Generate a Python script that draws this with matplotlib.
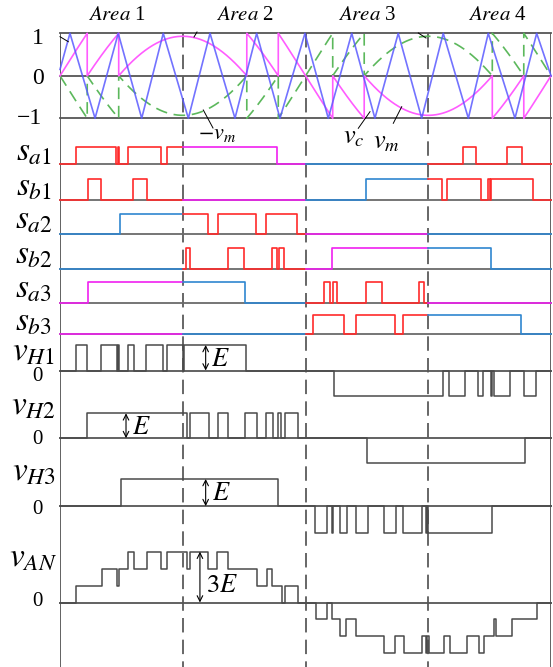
import numpy as np
import matplotlib.pyplot as plt
from matplotlib.lines import Line2D

plt.rcParams['font.family'] = ['Liberation Serif', 'DejaVu Serif']
plt.rcParams['mathtext.fontset'] = 'stix'

# ---- data: phase angle in degrees over one fundamental period ----
area_names = ['1', '2', '3', '4']
area_bounds = [90, 180, 270]

# triangular carrier (vertices)
carrier_t = [0, 7.3, 25.7, 42.7, 59.9, 75.7, 94.1, 110.0, 128.3, 144.2, 161.3, 179.6,
             196.7, 213.9, 230.9, 248.0, 265.2, 281.0, 299.4, 314.0, 333.6, 349.5, 360]
carrier_v = [0.15, 1, -1, 1, -1, 1, -1, 1, -1, 1, -1, 1,
             -1, 1, -1, 1, -1, 1, -1, 1, -1, 1, 0.0]
mod_amp = 2.93  # peak of the modulating wave, counted in carrier bands

# gate signals: angles where the switch toggles (all start off)
sa1_t = [11.7, 41.1, 42.3, 43.5, 49.6, 74.1, 78.5, 159.3, 295.5, 305.0, 327.7, 338.7]
sb1_t = [20.7, 30.1, 53.7, 63.6, 224.4, 279.9, 284.0, 308.7, 314.0, 315.1, 316.2, 347.0]
sa2_t = [44.0, 108.3, 115.6, 143.7, 151.0, 173.5]
sb2_t = [92.4, 95.3, 123.0, 134.9, 155.2, 158.9, 160.8, 164.5, 199.4, 316.0]
sa3_t = [20.7, 135.6, 193.8, 198.0, 199.9, 203.3, 224.4, 236.3, 263.4, 266.9]
sb3_t = [185.7, 208.2, 217.0, 245.6, 251.7, 337.8]

# colour of each gate trace in areas 1..4
sa1_c = ['r', 'm', 'b', 'r']
sb1_c = ['r', 'm', 'b', 'r']
sa2_c = ['b', 'r', 'm', 'b']
sb2_c = ['b', 'r', 'm', 'b']
sa3_c = ['m', 'b', 'r', 'm']
sb3_c = ['m', 'b', 'r', 'b']

# H-bridge output voltages (angle of change, new level in units of E)
vh1_t = [11.7, 20.0, 30.1, 41.6, 42.3, 43.5, 49.6, 54.3, 63.1, 75.3, 78.7, 89.9, 90.9, 136.2,
         201.1, 281.0, 285.4, 296.9, 306.3, 310.4, 315.8, 317.0, 318.4, 329.9, 340.2, 349.0]
vh1_v = [1, 0, 1, 0, 1, 0, 1, 0, 1, 0, 1, 0, 1, 0,
         -1, 0, -1, 0, -1, 0, -1, 0, -1, 0, -1, 0]
vh2_t = [20.0, 92.9, 95.3, 109.5, 115.6, 123.4, 135.6, 144.2, 151.0, 156.0, 160.1, 162.1,
         165.0, 174.7, 225.3, 340.9]
vh2_v = [1, 0, 1, 0, 1, 0, 1, 0, 1, 0, 1, 0, 1, 0, -1, 0]
vh3_t = [44.5, 160.1, 187.0, 195.5, 199.2, 200.4, 205.3, 210.2, 217.0, 225.6, 237.8, 246.1,
         251.7, 265.2, 268.1, 269.1, 270.0, 316.5]
vh3_v = [1, 0, -1, 0, -1, 0, -1, 0, -1, 0, -1, 0, -1, 0, -1, 0, -1, 0]
van_t = [11.5, 30.6, 42.0, 43.5, 50.1, 54.3, 64.0, 73.8, 78.7, 92.9, 95.3, 108.7, 114.9, 123.0,
         144.2, 151.6, 155.7, 162.6, 165.0, 174.7, 187.5, 195.5, 199.2, 205.3, 209.7, 217.0,
         237.6, 245.6, 252.2, 265.2, 268.4, 269.3, 270.2, 281.8, 285.9, 298.2, 307.2, 311.1,
         318.4, 319.7, 331.2, 349.5]
van_v = [1, 2, 1, 2, 3, 2, 3, 2, 3, 2, 3, 2, 3, 2,
         1, 2, 1, 0, 1, 0, -1, 0, -1, -2, -1, -2,
         -3, -2, -3, -2, -3, -2, -3, -2, -3, -2, -3, -2,
         -1, -2, -1, 0]

# ---- styling ----
W, H = 553, 667
X0, X1 = 60, 551
COL = {'r': '#ff2a2a', 'm': '#f020f0', 'b': '#2f86d0'}
GRAY = '#555555'
WAVE = '#4a4a4a'

fig = plt.figure(figsize=(W / 100, H / 100), dpi=100)


def fx(x):
    return x / W


def fy(y):
    return 1 - y / H


def row_axes(y_top, y_bot, lo, hi):
    ax = fig.add_axes([fx(X0), fy(y_bot), (X1 - X0) / W, (y_bot - y_top) / H])
    ax.set_xlim(0, 360)
    ax.set_ylim(lo, hi)
    ax.axis('off')
    return ax


def level_path(times, levels):
    xs, ys, cur = [0], [0], 0
    for t, v in zip(times, levels):
        xs += [t, t]
        ys += [cur, v]
        cur = v
    xs.append(360)
    ys.append(cur)
    return xs, ys


def toggle_path(times, lo, hi):
    state = sum(1 for t in times if t <= lo) % 2
    xs, ys = [lo], [state]
    for t in times:
        if lo < t < hi:
            xs += [t, t]
            ys += [state, 1 - state]
            state = 1 - state
    xs.append(hi)
    ys.append(state)
    return xs, ys


# background: frame and area separators (x in degrees, y in pixel rows)
bg = fig.add_axes([fx(X0), 0, (X1 - X0) / W, 1])
bg.set_xlim(0, 360)
bg.set_ylim(H, 0)
bg.axis('off')
bg.vlines([0, 360], 33, H, color=GRAY, lw=1.3)
bg.vlines(area_bounds, 33, H, color='#5a5a5a', lw=1.3, linestyles=(0, (8, 4)))

# top panel: carrier and level-shifted references
ax = row_axes(33.3, 118.3, -1, 1)
for v in (1, 0, -1):
    ax.axhline(v, color=GRAY, lw=1.3, clip_on=False)
th = np.linspace(0, 360, 40001)
vm = mod_amp * np.sin(np.radians(th))
ax.plot(th, np.fmod(-vm, 1), color='#5cb85c', lw=1.2, ls=(0, (7, 4)), clip_on=False)
ax.plot(th, np.fmod(vm, 1), color='#ff5cff', lw=1.2, clip_on=False)
ax.plot(carrier_t, carrier_v, color='#5a5aff', lw=1.2, alpha=0.85, clip_on=False)

# gate signals
sw_rows = [(147.3, 164.3), (179, 200), (214, 234), (247.7, 269), (281.7, 303.3), (315, 334.3)]
sw_data = [(sa1_t, sa1_c), (sb1_t, sb1_c), (sa2_t, sa2_c),
           (sb2_t, sb2_c), (sa3_t, sa3_c), (sb3_t, sb3_c)]
for (yt, yb), (times, cols) in zip(sw_rows, sw_data):
    ax = row_axes(yt, yb, 0, 1)
    ax.axhline(0, color='#6a6a6a', lw=1.3, clip_on=False)
    for k in range(4):
        xs, ys = toggle_path(times, 90 * k, 90 * (k + 1))
        ax.plot(xs, ys, color=COL[cols[k]], lw=1.2, clip_on=False)

# H-bridge voltages and phase voltage
v_rows = [(345, 396, 1), (413.3, 463, 1), (479, 533.3, 1), (551.7, 653.3, 3)]
v_data = [(vh1_t, vh1_v), (vh2_t, vh2_v), (vh3_t, vh3_v), (van_t, van_v)]
v_axes = []
for (yt, yb, m), (times, levels) in zip(v_rows, v_data):
    ax = row_axes(yt, yb, -m, m)
    ax.axhline(0, color=GRAY, lw=1.3, clip_on=False)
    xs, ys = level_path(times, levels)
    ax.plot(xs, ys, color=WAVE, lw=1.1, clip_on=False)
    v_axes.append(ax)

arrow_x = [106.8, 48.4, 106.8, 102.6]
for ax, x, (yt, yb, m) in zip(v_axes, arrow_x, v_rows):
    ax.annotate('', xy=(x, m), xytext=(x, 0),
                arrowprops=dict(arrowstyle='<->', lw=0.8, color='black',
                                shrinkA=0, shrinkB=0, mutation_scale=10))


# ---- text ----
def label(x, y, s, size, **kw):
    fig.text(fx(x), fy(y), s, fontsize=size, ha=kw.pop('ha', 'center'),
             va=kw.pop('va', 'center'), **kw)


for name, xc in zip(area_names, [117.5, 245, 367.5, 497.5]):
    label(xc, 15, r'$\mathit{Area}$ ' + name, 15)

label(38, 38, '1', 17)
label(38, 78, '0', 17)
label(30, 118, '\u22121', 17)

row_names = [r'$s_{a1}$', r'$s_{b1}$', r'$s_{a2}$', r'$s_{b2}$', r'$s_{a3}$', r'$s_{b3}$',
             r'$v_{H1}$', r'$v_{H2}$', r'$v_{H3}$', r'$v_{AN}$']
row_y = [152, 187, 220.5, 255, 289, 322.5, 352.5, 406, 472.5, 557.5]
for s, y in zip(row_names, row_y):
    label(33.5, y, s, 24)

for y in (377, 439, 509, 602):
    label(37.5, y, '0', 15)

label(211, 359.5, r'$E$', 19, ha='left')
label(132, 427.5, r'$E$', 19, ha='left')
label(212, 494, r'$E$', 19, ha='left')
label(206, 586, r'$3E$', 19, ha='left')

label(217, 134, r'$-v_m$', 16)
label(354, 138, r'$v_c$', 19)
label(386, 143, r'$v_m$', 19)

leaders = [((60, 36.7), (68.3, 41.7)), ((194, 37), (197, 32)), ((418.3, 33), (426, 38)),
           ((203.3, 110), (213, 128)), ((358.3, 128.3), (370, 111.7)),
           ((393.3, 123.3), (401.7, 106.7))]
for (xa, ya), (xb, yb) in leaders:
    fig.add_artist(Line2D([fx(xa), fx(xb)], [fy(ya), fy(yb)], color='black', lw=0.7))

fig.savefig('out.png', dpi=100)
